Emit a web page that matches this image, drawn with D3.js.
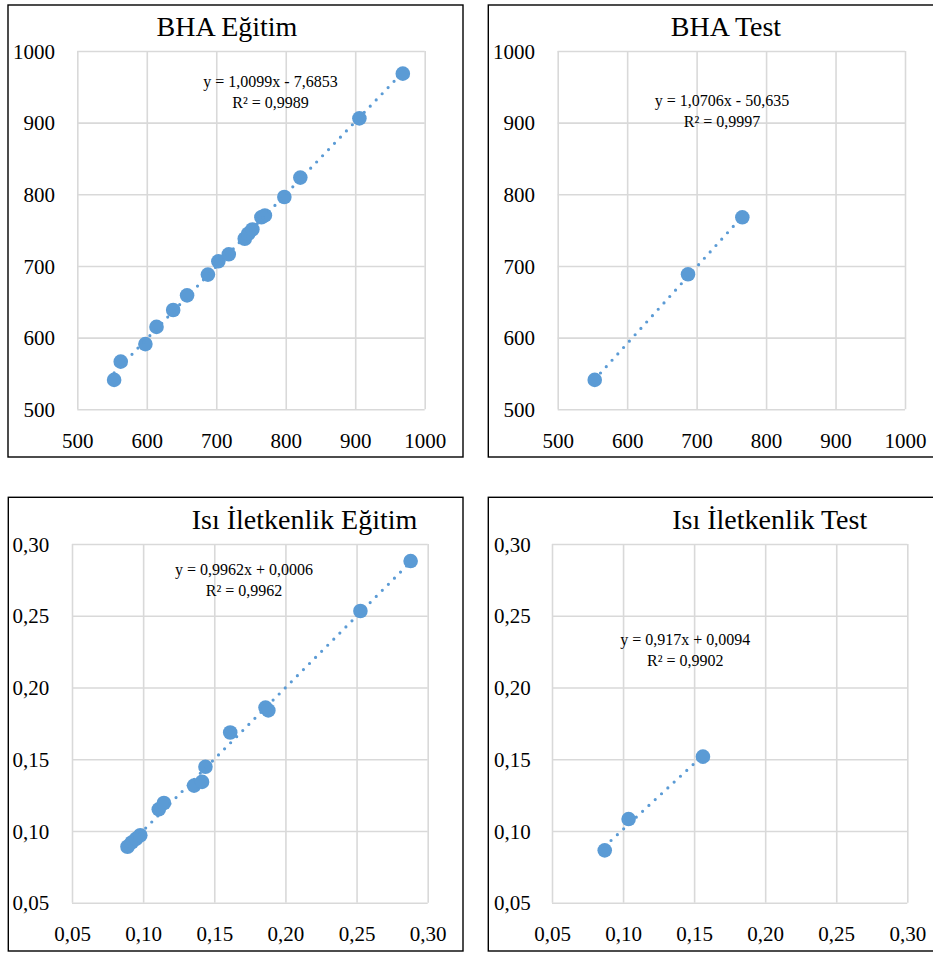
<!DOCTYPE html>
<html><head><meta charset="utf-8">
<script src="https://cdn.jsdelivr.net/npm/d3@7"></script>
<style>body{margin:0;background:#fff;} svg{display:block;}</style>
</head><body>
<script>
// ---- data ----
const bhaTicks = [500, 600, 700, 800, 900, 1000];
const isiTicks = [0.05, 0.10, 0.15, 0.20, 0.25, 0.30];

const bhaTrainX = [553, 562.5, 598, 614, 638, 658, 688, 703, 718, 741, 746, 752, 765, 770, 798, 821, 906, 968.5];
const bhaTrainY = [541, 566.5, 591, 615, 638.6, 659, 688, 706.5, 716.3, 738, 745, 751, 768, 770.5, 796.3, 823.3, 906, 968.4];

const bhaTestX = [553.3, 687.6, 765.8];
const bhaTestY = [541, 688.4, 767.9];

const isiTrainX = [0.089, 0.092, 0.095, 0.098, 0.111, 0.1146, 0.1358, 0.1414, 0.1438, 0.1612, 0.186, 0.188, 0.2527, 0.288];
const isiTrainY = [0.089, 0.092, 0.0945, 0.097, 0.1151, 0.1195, 0.1316, 0.1342, 0.1447, 0.1686, 0.186, 0.184, 0.2533, 0.2881];

const isiTestX = [0.0871, 0.1039, 0.1562];
const isiTestY = [0.0865, 0.1083, 0.1518];

const titles = ["BHA Eğitim", "BHA Test", "Isı İletkenlik Eğitim", "Isı İletkenlik Test"];
const eqLabels = ["y = 1,0099x - 7,6853", "y = 1,0706x - 50,635", "y = 0,9962x + 0,0006", "y = 0,917x + 0,0094"];
const r2Labels = ["R² = 0,9989", "R² = 0,9997", "R² = 0,9962", "R² = 0,9902"];
const slopes = [1.0099, 1.0706, 0.9962, 0.917];
const intercepts = [-7.6853, -50.635, 0.0006, 0.0094];

// ---- layout ----
const W = 933, H = 954;
const BLUE = "#5b9bd5";
const FONT = "'Liberation Serif', 'Times New Roman', serif";
const trLocale = d3.formatLocale({decimal: ",", thousands: ".", grouping: [3], currency: ["", ""]});

const panels = [
  {xs: bhaTrainX, ys: bhaTrainY, ticks: bhaTicks, fmt: d3.format("d"),
   border: [8, 5, 463, 457], px: [77.3, 424.7], py: [51, 409.3],
   title: [227, 36], eq: [270.5, 87, 108], yLab: 55, xLab: 448.5},
  {xs: bhaTestX, ys: bhaTestY, ticks: bhaTicks, fmt: d3.format("d"),
   border: [488.3, 5, 945, 457], px: [557.7, 905], py: [51, 409.3],
   title: [726, 36], eq: [722, 106, 127], yLab: 535, xLab: 448.5},
  {xs: isiTrainX, ys: isiTrainY, ticks: isiTicks, fmt: trLocale.format(".2f"),
   border: [8.3, 497.3, 463, 951], px: [72, 427.7], py: [544, 902.7],
   title: [304.5, 528.5], eq: [244, 575, 595.5], yLab: 49.3, xLab: 941},
  {xs: isiTestX, ys: isiTestY, ticks: isiTicks, fmt: trLocale.format(".2f"),
   border: [488.3, 497.3, 945, 951], px: [552, 907.3], py: [544, 902.7],
   title: [769.7, 529], eq: [685.3, 645, 666], yLab: 530.7, xLab: 941}
];

const svg = d3.select("body").append("svg")
  .attr("width", W).attr("height", H)
  .style("font-family", FONT);

panels.forEach((p, i) => {
  const g = svg.append("g");
  const [bx0, by0, bx1, by1] = p.border;
  g.append("rect")
    .attr("x", bx0).attr("y", by0).attr("width", bx1 - bx0).attr("height", by1 - by0)
    .attr("fill", "#fff").attr("stroke", "#000").attr("stroke-width", 1.4);

  const dom = d3.extent(p.ticks);
  const x = d3.scaleLinear().domain(dom).range(p.px);
  const y = d3.scaleLinear().domain(dom).range([p.py[1], p.py[0]]);
  const pw = p.px[1] - p.px[0], ph = p.py[1] - p.py[0];

  // vertical grid + x labels
  const gx = g.append("g").attr("transform", `translate(0,${p.py[1]})`)
    .call(d3.axisBottom(x).tickValues(p.ticks).tickFormat(p.fmt).tickSize(-ph).tickSizeOuter(0));
  gx.select(".domain").remove();
  gx.selectAll("line").attr("stroke", "#d9d9d9").attr("stroke-width", 1.6);
  gx.selectAll("text").attr("y", p.xLab - p.py[1]).attr("dy", 0)
    .attr("fill", "#000").style("font-size", "21px").style("font-family", FONT);

  // horizontal grid + y labels
  const gy = g.append("g").attr("transform", `translate(${p.px[0]},0)`)
    .call(d3.axisLeft(y).tickValues(p.ticks).tickFormat(p.fmt).tickSize(-pw).tickSizeOuter(0));
  gy.select(".domain").remove();
  gy.selectAll("line").attr("stroke", "#d9d9d9").attr("stroke-width", 1.6);
  gy.selectAll("text").attr("x", p.yLab - p.px[0]).attr("dy", "0.34em")
    .attr("fill", "#000").style("font-size", "21px").style("font-family", FONT);

  // points
  const pts = p.xs.map((v, k) => [v, p.ys[k]]);
  g.append("g").selectAll("circle").data(pts).join("circle")
    .attr("cx", d => x(d[0])).attr("cy", d => y(d[1])).attr("r", 7.3)
    .attr("fill", BLUE);

  // trendline
  const [xmin, xmax] = d3.extent(p.xs);
  const tl = [xmin, xmax].map(v => [v, slopes[i] * v + intercepts[i]]);
  g.append("path")
    .attr("d", d3.line().x(d => x(d[0])).y(d => y(d[1]))(tl))
    .attr("fill", "none").attr("stroke", BLUE).attr("stroke-width", 3.2)
    .attr("stroke-linecap", "round").attr("stroke-dasharray", "0 8.6");

  // title
  g.append("text").attr("x", p.title[0]).attr("y", p.title[1])
    .attr("text-anchor", "middle").style("font-size", "28px").attr("fill", "#000")
    .text(titles[i]);

  // equation
  g.append("text").attr("x", p.eq[0]).attr("y", p.eq[1])
    .attr("text-anchor", "middle").style("font-size", "16px").attr("fill", "#000")
    .text(eqLabels[i]);
  g.append("text").attr("x", p.eq[0]).attr("y", p.eq[2])
    .attr("text-anchor", "middle").style("font-size", "16px").attr("fill", "#000")
    .text(r2Labels[i]);
});
</script>
</body></html>
